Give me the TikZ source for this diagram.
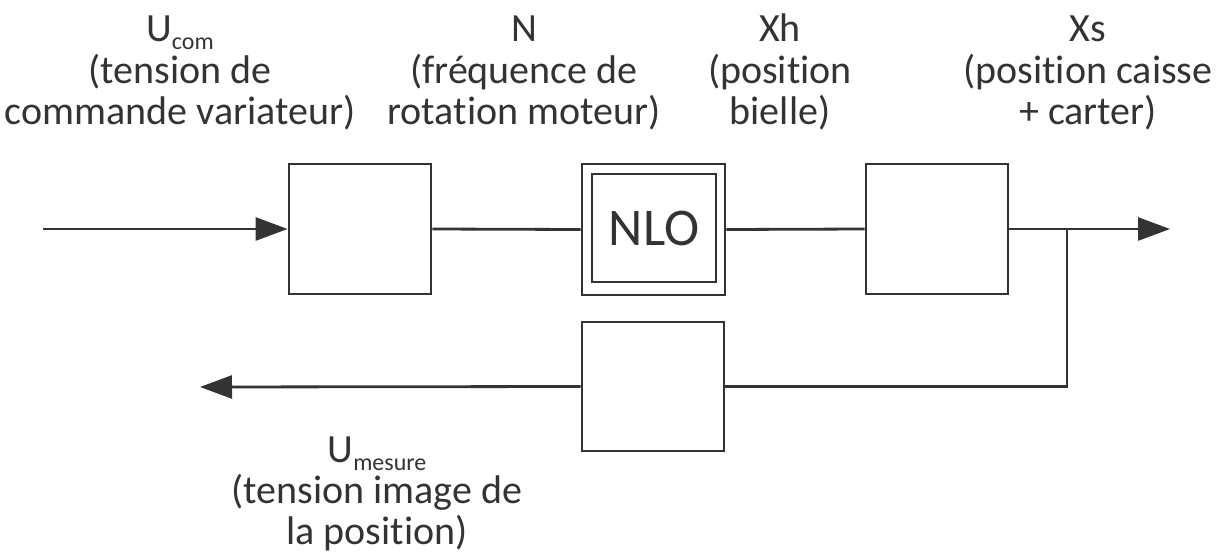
\documentclass[tikz,border=0pt]{standalone}
\usepackage{fontspec}
\setmainfont{Carlito}[Ligatures=NoCommon]
\usetikzlibrary{arrows.meta}
\definecolor{ink}{HTML}{333333}
\newcommand\lowsub[1]{\raisebox{-4pt}{\fontsize{12}{12}\selectfont #1}}
\begin{document}
\begin{tikzpicture}[x=0.5pt,y=-0.5pt,
  blk/.style={draw=ink,line width=1.4pt,minimum width=71pt,minimum height=65pt,inner sep=0pt},
  wire/.style={draw=ink,line width=1.4pt},
  arr/.style={wire,-{Triangle[length=16pt,width=11.5pt]}},
  lbl/.style={text=ink,align=center,font=\fontsize{20}{20.5}\selectfont,inner sep=0pt,anchor=base}]
\useasboundingbox (0,0) rectangle (1218,556);
% blocks
\node[blk] (b1) at (360,229) {};
\node[blk,minimum width=71.5pt,minimum height=65.5pt] (nlo) at (653.5,229.5) {};
\node[blk,minimum width=62pt,minimum height=54pt,text=ink,font=\fontsize{26.5}{26.5}\selectfont] (nloin) at (654,228) {NLO};
\node[blk] (b3) at (937,229) {};
\node[blk,minimum height=64.5pt] (fb) at (653,386.5) {};
% connectors
\coordinate (in) at (43,229);
\coordinate (br) at (1067,229);
\coordinate (out) at (1170,229);
\coordinate (fbout) at (200,387);
\draw[arr] (in) -- (b1.west);
\draw[wire] (b1.east) -- (nlo.west);
\draw[wire] (nlo.east) -- (b3.west);
\draw[arr] (b3.east) -- (out);
\draw[wire] (br) |- (fb.east);
\draw[arr] (fb.west) -- (fbout);
% labels (anchored at the baseline of their last line)
\node[lbl] (lu) at (180,124) {U\lowsub{com}\\(tension de\\commande variateur)};
\node[lbl] (ln) at (524,124) {N\\(fréquence de\\rotation moteur)};
\node[lbl] (lxh) at (780,124) {Xh\\(position\\bielle)};
\node[lbl] (lxs) at (1088,124) {Xs\\(position caisse\\+ carter)};
\node[lbl] (lum) at (377,544) {U\lowsub{mesure}\\(tension image de\\la position)};
\end{tikzpicture}
\end{document}
